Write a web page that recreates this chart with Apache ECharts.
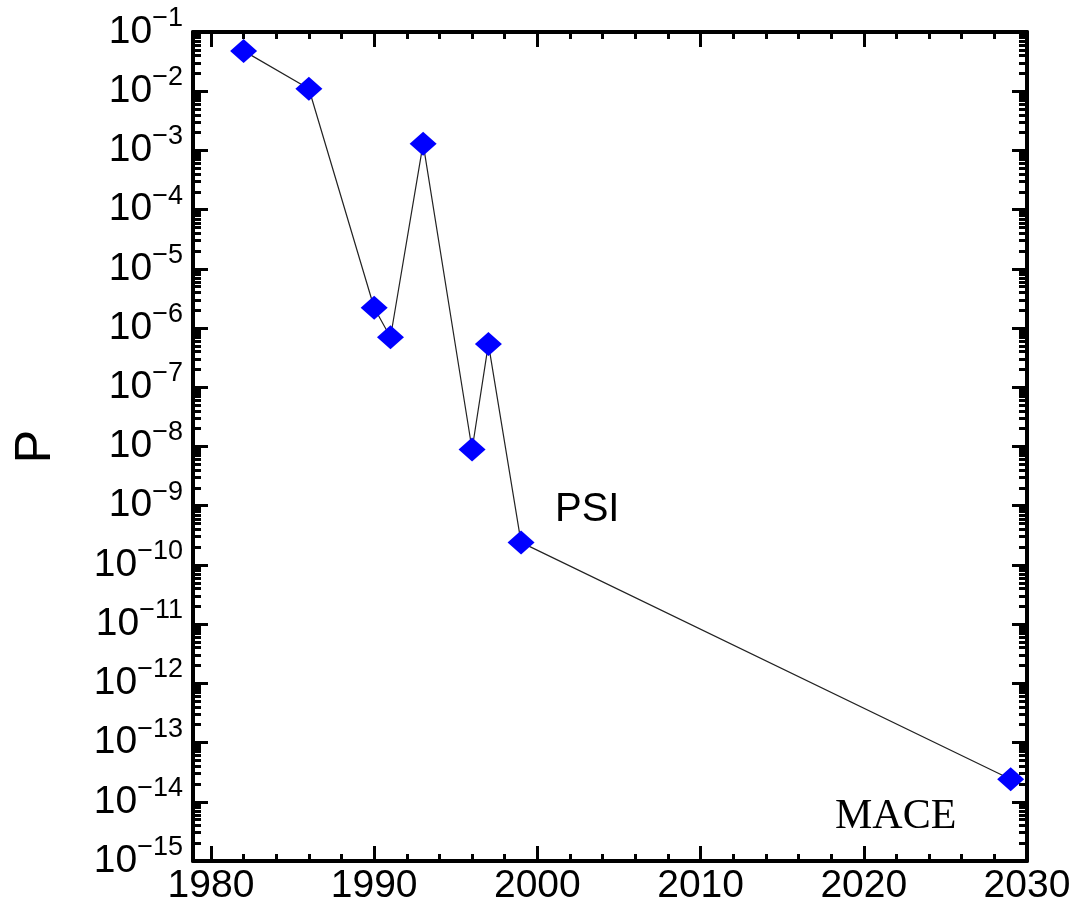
<!DOCTYPE html>
<html><head><meta charset="utf-8">
<script src="https://cdn.jsdelivr.net/npm/echarts@6/dist/echarts.min.js"></script>
<style>html,body{margin:0;padding:0;background:#fff}#c{width:1079px;height:906px}</style>
</head><body><div id="c"></div>
<script>
// ---- data ----
const years = [1982, 1986, 1990, 1991, 1993, 1996, 1997, 1999, 2029];
const pValues = [0.048, 0.011, 2.2e-6, 7e-7, 1.3e-3, 8.9e-9, 5.4e-7, 2.4e-10, 2.4e-14];
const xMajorTicks = [1980, 1990, 2000, 2010, 2020, 2030];
const xMinorTicks = [1982, 1984, 1986, 1988, 1992, 1994, 1996, 1998, 2002, 2004, 2006, 2008,
                     2012, 2014, 2016, 2018, 2022, 2024, 2026, 2028];
const yExponents = [-15, -14, -13, -12, -11, -10, -9, -8, -7, -6, -5, -4, -3, -2, -1];
const minorMantissas = [2, 3, 4, 5, 6, 7, 8, 9];
const yLabelText = 'P';
const noteTexts = ['PSI', 'MACE'];

const yMajorTicks = yExponents.map(e => Math.pow(10, e));
const yMinorTicks = [];
yExponents.slice(0, -1).forEach(e => minorMantissas.forEach(m => yMinorTicks.push(m * Math.pow(10, e))));

const X_MIN = 1978.9, X_MAX = 2030;
const Y_MIN = 1e-15, Y_MAX = 1e-1;
const sans = 'Liberation Sans, Arial, sans-serif';

function xAx(pos, ticks, len, labels) {
  return {
    type: 'value', position: pos, min: X_MIN, max: X_MAX,
    axisLine: { show: len > 10, lineStyle: { color: '#000', width: 4 } },
    axisTick: { show: true, inside: true, length: len, customValues: ticks, lineStyle: { color: '#000', width: 3 } },
    axisLabel: labels ? { show: true, customValues: ticks, margin: 6, fontSize: 39, color: '#000', fontFamily: sans,
      formatter: v => String(Math.round(v)) } : { show: false },
    splitLine: { show: false }
  };
}
function yAx(pos, ticks, len, labels) {
  return {
    type: 'log', logBase: 10, position: pos, min: Y_MIN, max: Y_MAX,
    axisLine: { show: len > 10, lineStyle: { color: '#000', width: 4 } },
    axisTick: { show: true, inside: true, length: len, customValues: ticks, lineStyle: { color: '#000', width: 3 } },
    axisLabel: labels ? {
      show: true, customValues: ticks, margin: 10,
      formatter: v => '{b|10}{s|−' + Math.abs(Math.round(Math.log10(v))) + '}',
      rich: {
        b: { fontSize: 39, lineHeight: 54, color: '#000', fontFamily: sans },
        s: { fontSize: 27, lineHeight: 28, verticalAlign: 'top', color: '#000', fontFamily: sans }
      }
    } : { show: false },
    splitLine: { show: false },
    minorTick: { show: false },
    name: labels ? yLabelText : '', nameLocation: 'middle', nameGap: 132, nameRotate: 90,
    nameTextStyle: { fontSize: 50, color: '#000', fontFamily: sans }
  };
}

const chart = echarts.init(document.getElementById('c'), null, { renderer: 'canvas' });
chart.setOption({
  backgroundColor: '#fff',
  animation: false,
  grid: { left: 193, right: 52, top: 32, bottom: 43, containLabel: false },
  xAxis: [
    xAx('bottom', xMajorTicks, 15, true),
    xAx('bottom', xMinorTicks, 7, false),
    xAx('top', xMajorTicks, 15, false),
    xAx('top', xMinorTicks, 7, false)
  ],
  yAxis: [
    yAx('left', yMajorTicks, 15, true),
    yAx('left', yMinorTicks, 8, false),
    yAx('right', yMajorTicks, 15, false),
    yAx('right', yMinorTicks, 8, false)
  ],
  series: [{
    type: 'line',
    xAxisIndex: 0, yAxisIndex: 0,
    data: years.map((y, i) => [y, pValues[i]]),
    lineStyle: { color: '#222', width: 1.2 },
    symbol: 'diamond', symbolSize: [27, 24],
    itemStyle: { color: '#0000ff' },
    clip: false
  }],
  graphic: [
    { type: 'text', left: 555, top: 490, style: { text: noteTexts[0], fontSize: 40, fill: '#000', fontFamily: sans } },
    { type: 'text', left: 835, top: 796, style: { text: noteTexts[1], fontSize: 42, fill: '#000', fontFamily: 'Liberation Serif, Times New Roman, serif' } }
  ]
});
</script></body></html>
